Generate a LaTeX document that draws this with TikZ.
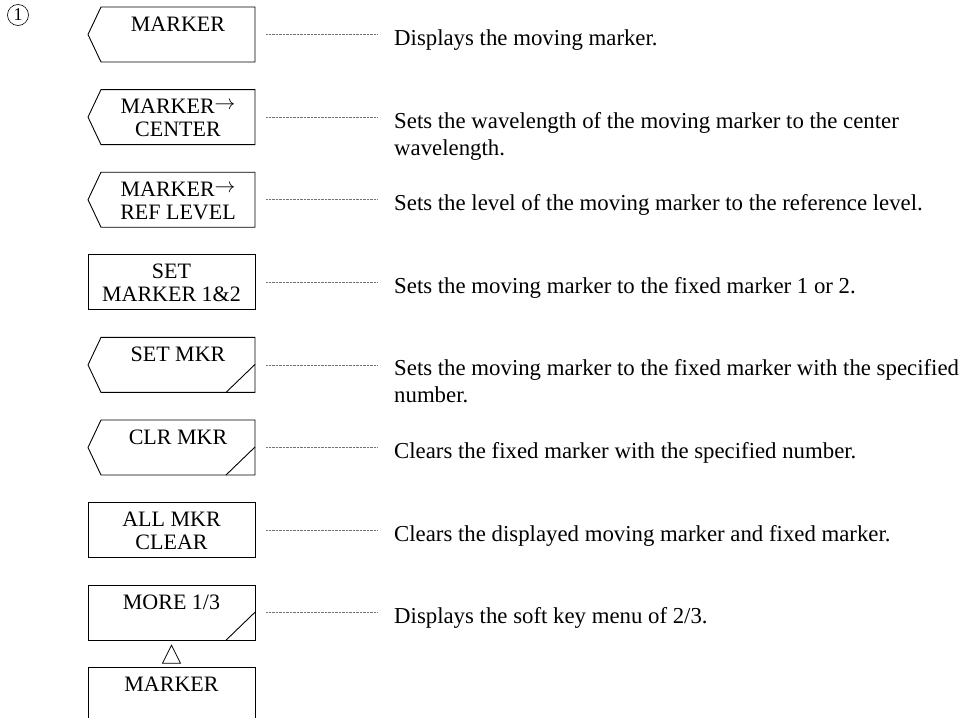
\documentclass[tikz,border=0pt]{standalone}
\usepackage{fontspec}
\setmainfont{Liberation Serif}
\usetikzlibrary{positioning}

\tikzset{
  softkey/.style={minimum width=167pt, minimum height=55pt, inner sep=0pt, outer sep=0pt},
  keyline/.style={line width=0.9pt},
  keytext/.style={anchor=base, align=center, inner sep=0pt, font=\fontsize{22pt}{23pt}\selectfont},
  keytwo/.style={yshift=-23pt},
  desc/.style={anchor=base west, align=left, inner sep=0pt, font=\fontsize{22.8pt}{27pt}\selectfont},
  desctwo/.style={yshift=-27pt},
  leader/.style={line width=0.5pt, black!55, dash pattern=on 1pt off 0.4pt},
}
\newcommand{\keyarrow}{\raisebox{4pt}{$\rightarrow$}}

\begin{document}
\begin{tikzpicture}[x=1pt, y=-1pt]
\useasboundingbox (0,0) rectangle (962,718);
% number of the menu
\node[circle, draw, line width=0.6pt, inner sep=0pt, minimum size=21pt, font=\fontsize{18pt}{18pt}\selectfont] (num) at (18,15) {1};
% soft keys, top to bottom
\node[softkey] (k1) at (171.5,34.5) {};
\node[softkey, below=27.6pt of k1] (k2) {};
\node[softkey, below=27.6pt of k2] (k3) {};
\node[softkey, below=27.6pt of k3] (k4) {};
\node[softkey, below=27.6pt of k4] (k5) {};
\node[softkey, below=27.6pt of k5] (k6) {};
\node[softkey, below=27.6pt of k6] (k7) {};
\node[softkey, below=27.6pt of k7] (k8) {};
\node[softkey, below=27.6pt of k8, minimum height=50pt] (k9) {};
% outlines: keys with the notch on the left
\foreach \k in {k1,k2,k3,k5,k6}
  \draw[keyline] ([xshift=13pt]\k.north west) -- (\k.north east) -- (\k.south east)
    -- ([xshift=13pt]\k.south west) -- (\k.west) -- cycle;
% plain keys
\foreach \k in {k4,k7,k8}
  \draw[keyline] (\k.north west) rectangle (\k.south east);
\draw[keyline] (k9.south west) -- (k9.north west) -- (k9.north east) -- (k9.south east);
% slash in the corner
\foreach \k in {k5,k6,k8}
  \draw[keyline] ([xshift=-29pt]\k.south east) -- ([yshift=28pt]\k.south east);
% up triangle between MORE and MARKER
\draw[line width=0.8pt] ([yshift=-5pt]k8.south) -- ([shift={(9pt,-23pt)}]k8.south)
  -- ([shift={(-9pt,-23pt)}]k8.south) -- cycle;
% key labels
\node[keytext] (t1) at ([shift={(6.5pt,-24pt)}]k1.north) {MARKER};
\node[keytext, keytwo] (t2) at ([shift={(6.5pt,-24pt)}]k2.north) {MARKER\keyarrow\\CENTER};
\node[keytext, keytwo] (t3) at ([shift={(6.5pt,-24pt)}]k3.north) {MARKER\keyarrow\\REF LEVEL};
\node[keytext, keytwo] (t4) at ([yshift=-24pt]k4.north) {SET\\MARKER 1\&2};
\node[keytext] (t5) at ([shift={(6.5pt,-24pt)}]k5.north) {SET MKR};
\node[keytext] (t6) at ([shift={(6.5pt,-24pt)}]k6.north) {CLR MKR};
\node[keytext, keytwo] (t7) at ([yshift=-24pt]k7.north) {ALL MKR\\CLEAR};
\node[keytext] (t8) at ([yshift=-24pt]k8.north) {MORE 1/3};
\node[keytext] (t9) at ([yshift=-24pt]k9.north) {MARKER};
% descriptions
\node[desc] (d1) at ([shift={(139pt,-11pt)}]k1.east) {Displays the moving marker.};
\node[desc, desctwo] (d2) at ([shift={(139pt,-11pt)}]k2.east) {Sets the wavelength of the moving marker to the center\\wavelength.};
\node[desc] (d3) at ([shift={(139pt,-11pt)}]k3.east) {Sets the level of the moving marker to the reference level.};
\node[desc] (d4) at ([shift={(139pt,-11pt)}]k4.east) {Sets the moving marker to the fixed marker 1 or 2.};
\node[desc, desctwo] (d5) at ([shift={(139pt,-11pt)}]k5.east) {Sets the moving marker to the fixed marker with the specified\\number.};
\node[desc] (d6) at ([shift={(139pt,-11pt)}]k6.east) {Clears the fixed marker with the specified number.};
\node[desc] (d7) at ([shift={(139pt,-11pt)}]k7.east) {Clears the displayed moving marker and fixed marker.};
\node[desc] (d8) at ([shift={(139pt,-11pt)}]k8.east) {Displays the soft key menu of 2/3.};
% leader lines
\foreach \i in {1,...,8}
  \draw[leader] ([xshift=11pt]k\i.east) -- ([xshift=-17pt]d\i.west |- k\i.east);
\end{tikzpicture}
\end{document}
